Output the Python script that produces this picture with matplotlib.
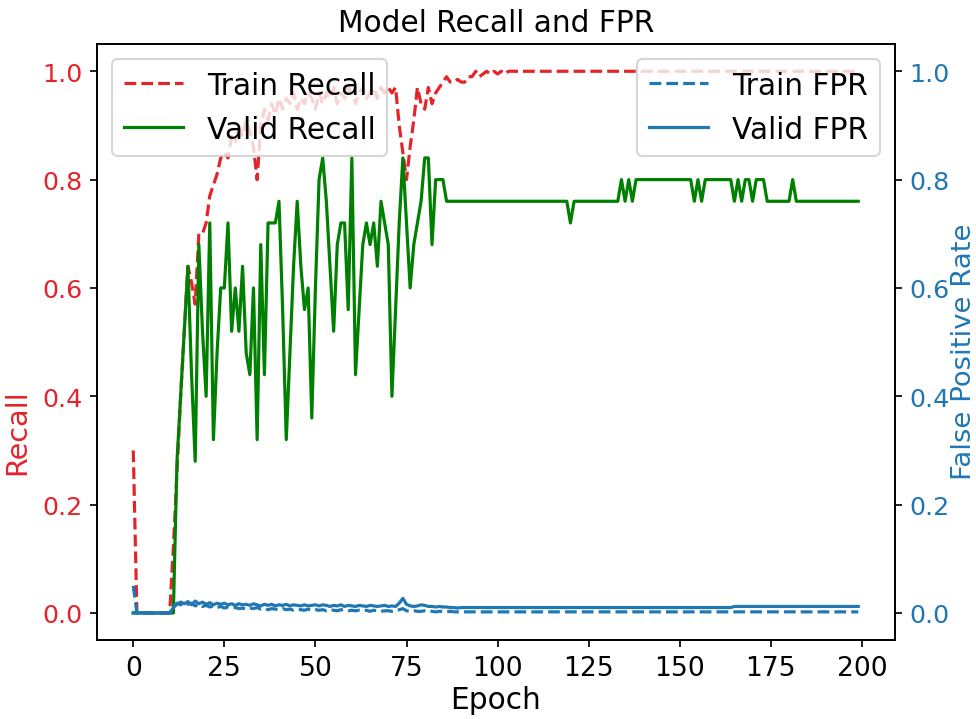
"""
Model Recall and FPR — 学習曲線の再現
左軸: Recall（Train / Valid）、右軸: False Positive Rate（Train / Valid）
"""

import numpy as np
import matplotlib
matplotlib.use('Agg')
import matplotlib.pyplot as plt

# 定数
RED = '#e3242b'
GREEN = 'green'
BLUE = 'tab:blue'

# データ
train_recall = (
    [0.30] + [0.0] * 10
    + [0.12, 0.26, 0.40, 0.52, 0.64, 0.61, 0.57, 0.70, 0.70, 0.72]
    + [0.77, 0.79, 0.81, 0.84, 0.85, 0.84, 0.88, 0.87, 0.90, 0.88]
    + [0.91, 0.89, 0.86, 0.80, 0.90, 0.93, 0.91, 0.94, 0.92, 0.95]
    + [0.93, 0.95, 0.94, 0.96, 0.93, 0.95, 0.94, 0.96, 0.95, 0.93]
    + [0.96, 0.94, 0.96, 0.95, 0.97, 0.94, 0.96, 0.95, 0.97, 0.96]
    + [0.94, 0.96, 0.97, 0.95, 0.96, 0.97, 0.95, 0.97, 0.96, 0.97]
    + [0.96, 0.97, 0.90, 0.85, 0.80, 0.86, 0.91, 0.97, 0.94, 0.93]
    + [0.97, 0.94, 0.96, 0.97, 0.98, 0.99, 0.98, 0.98, 0.985, 0.98]
    + [0.98, 0.99, 0.99, 1.0, 0.99, 0.995, 1.0, 0.995, 1.0, 0.995]
    + [1.0, 0.995, 1.0] + [1.0] * 96
)

valid_recall = (
    [0.0] * 12
    + [0.28, 0.40, 0.52, 0.64, 0.44, 0.28, 0.68, 0.52, 0.40]
    + [0.72, 0.32, 0.48, 0.60, 0.60, 0.72, 0.52, 0.60, 0.52, 0.64]
    + [0.48, 0.44, 0.60, 0.32, 0.68, 0.44, 0.72, 0.72, 0.72, 0.76]
    + [0.56, 0.32, 0.48, 0.64, 0.76, 0.64, 0.56, 0.60, 0.36, 0.60]
    + [0.80, 0.84, 0.76, 0.64, 0.52, 0.68, 0.72, 0.72, 0.56, 0.84]
    + [0.44, 0.56, 0.68, 0.72, 0.68, 0.72, 0.64, 0.76, 0.72, 0.68]
    + [0.40, 0.56, 0.72, 0.84, 0.72, 0.60, 0.68, 0.72, 0.76, 0.84]
    + [0.84, 0.68, 0.80, 0.80, 0.80, 0.76]
    + [0.76] * 33 + [0.72] + [0.76] * 13
    + [0.80, 0.76, 0.80, 0.76, 0.80] + [0.80] * 15
    + [0.76, 0.80, 0.76, 0.80] + [0.80] * 7
    + [0.76, 0.80, 0.76, 0.80, 0.80, 0.76, 0.80, 0.80, 0.80]
    + [0.76] * 7 + [0.80] + [0.76] * 18
)

train_fpr = (
    [0.05] + [0.0] * 10
    + [0.012, 0.018, 0.015, 0.020, 0.016, 0.018, 0.013, 0.016, 0.012, 0.014,
       0.011, 0.013, 0.010, 0.012, 0.009, 0.011, 0.009, 0.010, 0.008, 0.009]
    + [0.007, 0.009, 0.008, 0.010, 0.007, 0.008, 0.006, 0.008, 0.007, 0.006,
       0.008, 0.006, 0.007, 0.005, 0.007, 0.006, 0.005, 0.007, 0.005, 0.006]
    + [0.005, 0.006, 0.004, 0.006, 0.005, 0.004, 0.006, 0.005, 0.004, 0.005,
       0.004, 0.005, 0.004, 0.005, 0.003, 0.005, 0.004, 0.003, 0.004, 0.004]
    + [0.003, 0.004, 0.006, 0.008, 0.004, 0.003, 0.004, 0.003, 0.003, 0.004,
       0.003, 0.003, 0.002, 0.003, 0.003, 0.002, 0.003, 0.002, 0.002, 0.002]
    + [0.002] * 109
)

valid_fpr = (
    [0.0] * 11
    + [0.010, 0.016, 0.020, 0.017, 0.021, 0.015, 0.022, 0.017, 0.020, 0.016,
       0.019, 0.015, 0.018, 0.016, 0.018, 0.015, 0.017, 0.014, 0.017, 0.015]
    + [0.016, 0.014, 0.017, 0.015, 0.013, 0.016, 0.014, 0.016, 0.013, 0.015,
       0.014, 0.016, 0.013, 0.015, 0.014, 0.013, 0.015, 0.013, 0.014, 0.015]
    + [0.013, 0.015, 0.014, 0.012, 0.014, 0.013, 0.015, 0.012, 0.014, 0.013,
       0.012, 0.014, 0.013, 0.012, 0.014, 0.013, 0.012, 0.013, 0.014, 0.012]
    + [0.013, 0.012, 0.018, 0.027, 0.016, 0.013, 0.012, 0.013, 0.015, 0.014,
       0.012, 0.012, 0.011, 0.012, 0.011, 0.011, 0.010, 0.010, 0.009, 0.010]
    + [0.010] * 74 + [0.012] * 35
)

epochs = np.arange(len(train_recall))


def main() -> None:
    fig, ax1 = plt.subplots(figsize=(6.4, 4.72), dpi=152.5)
    fig.subplots_adjust(left=0.0994, right=0.9165, bottom=0.1097, top=0.9375)

    # 左軸: Recall
    ax1.plot(epochs, train_recall, '--', color=RED, label='Train Recall')
    ax1.plot(epochs, valid_recall, '-', color=GREEN, label='Valid Recall')
    ax1.set_xlabel('Epoch', fontsize=14, labelpad=2)
    ax1.set_ylabel('Recall', color=RED, fontsize=13.5)
    ax1.yaxis.set_label_coords(-0.082, 0.35)
    ax1.tick_params(axis='y', labelcolor=RED, labelsize=12)
    ax1.tick_params(axis='x', labelsize=12.5)
    ax1.set_ylim(-0.05, 1.05)
    ax1.set_yticks(np.arange(0, 1.01, 0.2))
    ax1.set_xticks(np.arange(0, 201, 25))
    ax1.legend(loc='upper left', fontsize=14)

    # 右軸: FPR
    ax2 = ax1.twinx()
    ax2.plot(epochs, train_fpr, '--', color=BLUE, label='Train FPR')
    ax2.plot(epochs, valid_fpr, '-', color=BLUE, label='Valid FPR')
    ax2.set_ylabel('False Positive Rate', color=BLUE, fontsize=13)
    ax2.yaxis.set_label_coords(1.071, 0.485)
    ax2.tick_params(axis='y', labelcolor=BLUE, labelsize=12)
    ax2.set_ylim(-0.05, 1.05)
    ax2.set_yticks(np.arange(0, 1.01, 0.2))
    ax2.legend(loc='upper right', fontsize=14)

    ax1.set_title('Model Recall and FPR', fontsize=14)

    fig.savefig('out.png', dpi=152.5)
    plt.close(fig)


if __name__ == "__main__":
    main()
